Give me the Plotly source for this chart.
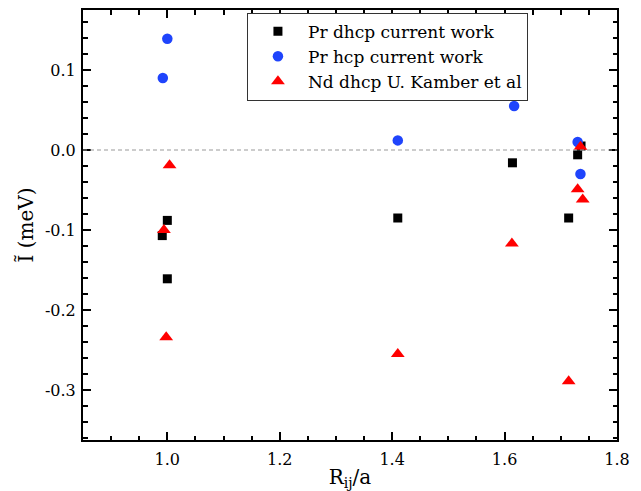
import plotly.graph_objects as go

# Data
pr_dhcp_x = [0.991, 1.000, 1.000, 1.410, 1.614, 1.714, 1.730, 1.736]
pr_dhcp_y = [-0.107, -0.088, -0.161, -0.085, -0.016, -0.085, -0.006, 0.005]

pr_hcp_x = [0.992, 1.000, 1.410, 1.617, 1.730, 1.735]
pr_hcp_y = [0.090, 0.139, 0.012, 0.055, 0.010, -0.030]

nd_dhcp_x = [0.994, 0.998, 1.004, 1.410, 1.613, 1.714, 1.730, 1.735, 1.739]
nd_dhcp_y = [-0.100, -0.234, -0.019, -0.255, -0.117, -0.289, -0.049, 0.004, -0.062]

x_tickvals = [1.0, 1.2, 1.4, 1.6, 1.8]
x_ticktext = ["1.0", "1.2", "1.4", "1.6", "1.8"]
y_tickvals = [0.1, 0.0, -0.1, -0.2, -0.3]
y_ticktext = ["0.1", "0.0", "-0.1", "-0.2", "-0.3"]

FONT = "DejaVu Serif, Liberation Serif, serif"

fig = go.Figure()
fig.add_trace(go.Scatter(x=pr_dhcp_x, y=pr_dhcp_y, mode="markers",
                         name="Pr dhcp current work",
                         marker=dict(symbol="square", size=9, color="#000000")))
fig.add_trace(go.Scatter(x=pr_hcp_x, y=pr_hcp_y, mode="markers",
                         name="Pr hcp current work",
                         marker=dict(symbol="circle", size=10.5, color="#1f44fc")))
fig.add_trace(go.Scatter(x=nd_dhcp_x, y=nd_dhcp_y, mode="markers",
                         name="Nd dhcp U. Kamber et al",
                         marker=dict(symbol="triangle-up", size=12, color="#ff0000")))

fig.add_hline(y=0, line=dict(color="#999999", width=1, dash="4px,3px"))

axis_common = dict(
    showline=True, linecolor="black", linewidth=2, mirror="ticks",
    ticks="inside", ticklen=8, tickwidth=2, tickcolor="black",
    showgrid=False, zeroline=False, automargin=False,
    tickfont=dict(family=FONT, size=16, color="black"),
)

fig.update_xaxes(range=[0.85, 1.8], tickvals=x_tickvals, ticktext=x_ticktext,
                 ticklabelstandoff=4,
                 minor=dict(dtick=0.05, tick0=0.0, ticks="inside", ticklen=4.5, tickwidth=1.5, tickcolor="black"),
                 title=dict(text="R<sub>ij</sub>/a", font=dict(family=FONT, size=20, color="black"), standoff=6),
                 **axis_common)
fig.update_yaxes(range=[-0.3625, 0.175], tickvals=y_tickvals, ticktext=y_ticktext,
                 ticklabelstandoff=2,
                 minor=dict(dtick=0.02, tick0=0.0, ticks="inside", ticklen=4.5, tickwidth=1.5, tickcolor="black"),
                 title=dict(text="Ĩ (meV)", font=dict(family=FONT, size=20, color="black"), standoff=6),
                 **axis_common)

fig.update_layout(
    width=641, height=491,
    margin=dict(l=83, r=24, t=10, b=51),
    paper_bgcolor="white", plot_bgcolor="white",
    font=dict(family=FONT, color="black"),
    showlegend=True,
    legend=dict(x=0.307, y=0.994, xanchor="left", yanchor="top",
                bgcolor="white", bordercolor="#333333", borderwidth=1,
                itemwidth=50,
                font=dict(family=FONT, size=17, color="black")),
)

fig.write_html("out.html")
